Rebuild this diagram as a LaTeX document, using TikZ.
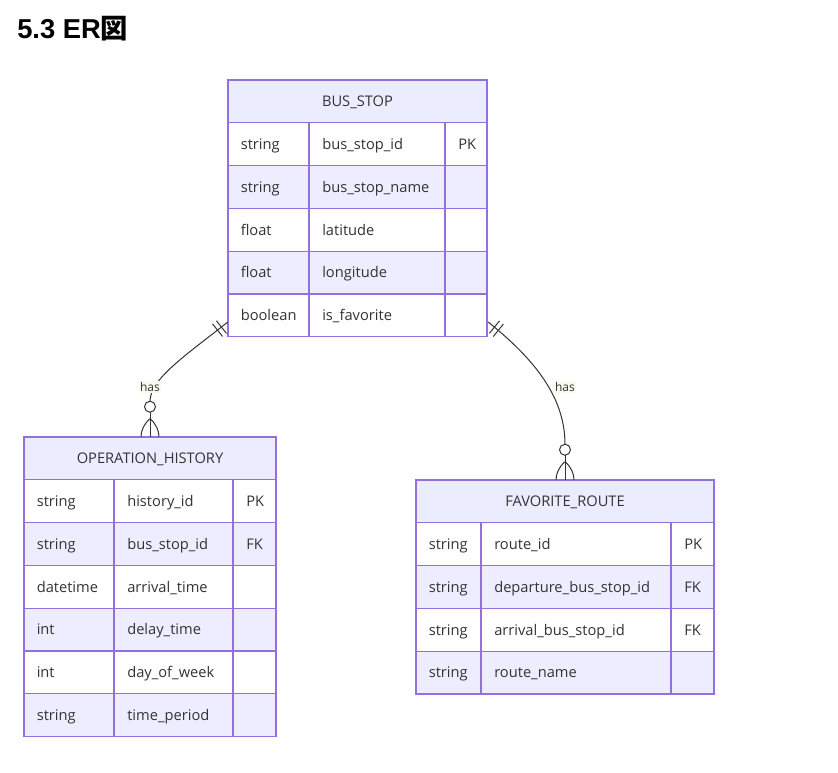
\documentclass[tikz,border=0pt]{standalone}
\usepackage{fontspec}
\setmainfont{Open Sans}
\newfontfamily\titlefont{Liberation Sans}
\newfontfamily\cjkfont{Noto Sans CJK JP}
\usetikzlibrary{calc,fit}
\definecolor{erborder}{HTML}{9370DB}
\definecolor{erhead}{HTML}{ECECFF}
\definecolor{ereven}{HTML}{EEEDFF}
\definecolor{ertext}{HTML}{333333}
\definecolor{erline}{HTML}{333333}
\definecolor{lblbg}{HTML}{F7FAEE}
\tikzset{
  celltext/.style={anchor=base west, inner sep=0pt, text=ertext, font=\fontsize{11}{13}\selectfont},
  headtext/.style={anchor=base, inner sep=0pt, text=ertext, font=\fontsize{11}{13}\selectfont},
  cellborder/.style={draw=erborder, line width=1pt},
  tblbox/.style={inner sep=0pt, draw=none},
  relline/.style={draw=erline, line width=0.75pt},
  rellabel/.style={fill=lblbg, inner sep=1pt, text=ertext, font=\fontsize{9}{10}\selectfont},
}
% #1 name, #2 x0, #3 col1, #4 col2, #5 x right, #6 y top, #7 title, #8 rows
\newcommand\ertable[8]{%
  \fill[erhead] (#2,#6) rectangle (#5,#6+42.8);
  \foreach \a/\b/\c [count=\n] in {#8} {
    \pgfmathsetmacro\yt{#6+42.8*\n}
    \pgfmathsetmacro\yb{\yt+42.8}
    \ifodd\n\def\rowfill{white}\else\def\rowfill{ereven}\fi
    \fill[\rowfill] (#2,\yt) rectangle (#5,\yb);
  }
  \foreach \a/\b/\c [count=\n] in {#8} {
    \pgfmathsetmacro\yt{#6+42.8*\n}
    \pgfmathsetmacro\yb{\yt+42.8}
    \pgfmathsetmacro\ym{\yt+21.4+5.3}
    \draw[cellborder] (#2,\yt) rectangle (#3,\yb) (#3,\yt) rectangle (#4,\yb) (#4,\yt) rectangle (#5,\yb);
    \node[celltext] (#1-a\n) at (#2+12.5,\ym) {\a};
    \node[celltext] (#1-b\n) at (#3+13,\ym) {\b};
    \node[celltext] (#1-c\n) at (#4+13,\ym) {\c};
    \coordinate (#1-se) at (#5,\yb);
  }
  \draw[cellborder] (#2,#6) rectangle (#5,#6+42.8);
  \node[headtext] (#1-title) at ({(#2+#5)/2},#6+21.4+5.3) {#7};
  \coordinate (#1-nw) at (#2,#6);
  \node[tblbox, fit=(#1-nw)(#1-se)] (#1) {};
}
\begin{document}
\begin{tikzpicture}[x=0.75pt,y=-0.75pt]
\useasboundingbox (0,0) rectangle (838,773);
\fill[white] (0,0) rectangle (838,773);

\node[anchor=base west, inner sep=0pt, font=\fontsize{20.5}{22}\selectfont\bfseries] (title) at (17,39) {\titlefont 5.3 ER\cjkfont 図};

\ertable{busstop}{228}{309}{445}{487}{80}{BUS\_STOP}{%
  string/bus\_stop\_id/PK,
  string/bus\_stop\_name/,
  float/latitude/,
  float/longitude/,
  boolean/is\_favorite/}

\ertable{ophist}{24}{114}{233}{276}{437}{OPERATION\_HISTORY}{%
  string/history\_id/PK,
  string/bus\_stop\_id/FK,
  datetime/arrival\_time/,
  int/delay\_time/,
  int/day\_of\_week/,
  string/time\_period/}

\ertable{favroute}{416}{481}{671}{714}{480}{FAVORITE\_ROUTE}{%
  string/route\_id/PK,
  string/departure\_bus\_stop\_id/FK,
  string/arrival\_bus\_stop\_id/FK,
  string/route\_name/}

% left relationship
\coordinate (ls) at ($(busstop.south west)+(0,-15)$);
\coordinate (lc) at ($(ophist.north)+(0,-30)$);
\coordinate (lct) at ($(lc)+(0,-5.5)$);
\coordinate (lcb) at ($(lc)+(0,5.5)$);
\coordinate (lf) at ($(ophist.north)+(0,-18)$);
\draw[relline] (ls) .. controls ($(ls)+(-43,34)$) and ($(lct)+(0,-22)$) .. (lct);
\draw[relline] ($(ls)+(-6.3,5)+(5,6.3)$) -- ($(ls)+(-6.3,5)+(-5,-6.3)$);
\draw[relline] ($(ls)+(-10.2,8.1)+(5,6.3)$) -- ($(ls)+(-10.2,8.1)+(-5,-6.3)$);
\draw[relline] (lc) circle[radius=5.5];
\draw[relline] (lcb) -- (ophist.north);
\draw[relline] (lf) .. controls ($(lf)+(-6,5)$) and ($(ophist.north)+(-9,-6)$) .. ($(ophist.north)+(-9,0)$);
\draw[relline] (lf) .. controls ($(lf)+(6,5)$) and ($(ophist.north)+(9,-6)$) .. ($(ophist.north)+(9,0)$);
\node[rellabel] (lhas) at (150,387) {has};

% right relationship
\coordinate (rs) at ($(busstop.south east)+(1,-15)$);
\coordinate (rc) at ($(favroute.north)+(0,-30)$);
\coordinate (rct) at ($(rc)+(0,-5.5)$);
\coordinate (rcb) at ($(rc)+(0,5.5)$);
\coordinate (rf) at ($(favroute.north)+(0,-18)$);
\draw[relline] (rs) .. controls ($(rs)+(42,34)$) and ($(rct)+(0,-50)$) .. (rct);
\draw[relline] ($(rs)+(6.2,5)+(-5,6.2)$) -- ($(rs)+(6.2,5)+(5,-6.2)$);
\draw[relline] ($(rs)+(10.1,8.2)+(-5,6.2)$) -- ($(rs)+(10.1,8.2)+(5,-6.2)$);
\draw[relline] (rc) circle[radius=5.5];
\draw[relline] (rcb) -- (favroute.north);
\draw[relline] (rf) .. controls ($(rf)+(-6,5)$) and ($(favroute.north)+(-9,-6)$) .. ($(favroute.north)+(-9,0)$);
\draw[relline] (rf) .. controls ($(rf)+(6,5)$) and ($(favroute.north)+(9,-6)$) .. ($(favroute.north)+(9,0)$);
\node[rellabel] (rhas) at (565,387) {has};
\end{tikzpicture}
\end{document}
